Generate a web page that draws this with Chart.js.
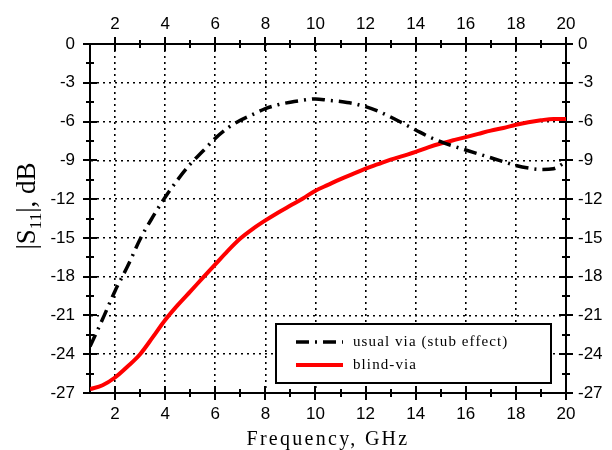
<!DOCTYPE html>
<html>
<head>
<meta charset="utf-8">
<script src="https://cdn.jsdelivr.net/npm/chart.js@4.4.1/dist/chart.umd.min.js"></script>
<style>
  html, body { margin: 0; padding: 0; background: #fff; }
  #wrap { width: 612px; height: 450px; }
</style>
</head>
<body>
<div id="wrap"><canvas id="grafico" width="612" height="450"></canvas></div>
<script>
// Frecuencia (GHz) y |S11| (dB)
const frecuencias = [1, 1.5, 2, 2.5, 3, 3.5, 4, 4.5, 5, 5.5, 6, 6.5, 7, 7.5, 8, 8.5, 9, 9.5, 10,
  10.5, 11, 11.5, 12, 12.5, 13, 13.5, 14, 14.5, 15, 15.5, 16, 16.5, 17, 17.5, 18, 18.5, 19, 19.5, 20];
const viaUsual = [-23.4, -21.3, -19.1, -17.2, -15.1, -13.4, -11.85, -10.5, -9.3, -8.3, -7.3, -6.5, -5.9,
  -5.45, -5.0, -4.7, -4.5, -4.35, -4.25, -4.35, -4.45, -4.6, -4.85, -5.2, -5.65, -6.15, -6.65, -7.15,
  -7.55, -7.9, -8.2, -8.5, -8.8, -9.1, -9.4, -9.6, -9.7, -9.65, -9.1];
const viaCiega = [-26.7, -26.4, -25.8, -24.95, -24.0, -22.7, -21.35, -20.2, -19.15, -18.1, -17.05,
  -16.0, -15.05, -14.3, -13.65, -13.05, -12.5, -11.95, -11.35, -10.9, -10.45, -10.05, -9.65, -9.3,
  -8.95, -8.65, -8.35, -8.0, -7.7, -7.45, -7.2, -6.95, -6.7, -6.5, -6.25, -6.05, -5.9, -5.8, -5.8];

const ticksX = [2, 4, 6, 8, 10, 12, 14, 16, 18, 20];
const menoresX = [3, 5, 7, 9, 11, 13, 15, 17, 19];
const ticksY = [0, -3, -6, -9, -12, -15, -18, -21, -24, -27];
const menoresY = [-1.5, -4.5, -7.5, -10.5, -13.5, -16.5, -19.5, -22.5, -25.5];

const etiquetas = ['usual via (stub effect)', 'blind-via'];
const tituloX = 'Frequency, GHz';

const fuenteTicks = { family: 'Liberation Sans', size: 17 };

/**
 * Marcas mayores y menores en los cuatro lados del marco.
 */
const marcasEjes = {
  id: 'marcasEjes',
  afterDraw(chart) {
    const { ctx, chartArea: a, scales } = chart;
    ctx.save();
    ctx.strokeStyle = '#000';
    ctx.lineWidth = 2;
    ctx.beginPath();
    const enX = (v, len) => {
      const px = Math.round(scales.x.getPixelForValue(v));
      for (const y of [a.top, a.bottom]) { ctx.moveTo(px, y - len); ctx.lineTo(px, y + len); }
    };
    const enY = (v, len) => {
      const py = Math.round(scales.y.getPixelForValue(v));
      for (const x of [a.left, a.right]) { ctx.moveTo(x - len, py); ctx.lineTo(x + len, py); }
    };
    ticksX.forEach(v => enX(v, 7));
    menoresX.forEach(v => enX(v, 4));
    ticksY.forEach(v => enY(v, 7));
    menoresY.forEach(v => enY(v, 4));
    ctx.stroke();
    ctx.restore();
  }
};

/**
 * Títulos de ejes (con subíndice en el eje Y) y leyenda dentro del área.
 */
const titulosYLeyenda = {
  id: 'titulosYLeyenda',
  afterDraw(chart) {
    const { ctx, chartArea: a } = chart;
    ctx.save();
    ctx.fillStyle = '#000';

    // título eje X
    ctx.font = '20px "Liberation Serif"';
    ctx.letterSpacing = '2.3px';
    ctx.textAlign = 'center';
    ctx.textBaseline = 'alphabetic';
    ctx.fillText(tituloX, (a.left + a.right) / 2, 445);
    ctx.letterSpacing = '0px';

    // título eje Y: |S11|, dB
    const partes = [
      { t: '|S', f: '27px "Liberation Serif"', dy: 0 },
      { t: '11', f: '17px "Liberation Serif"', dy: 6 },
      { t: '|, dB', f: '27px "Liberation Serif"', dy: 0 }
    ];
    let total = 0;
    for (const p of partes) { ctx.font = p.f; p.w = ctx.measureText(p.t).width; total += p.w; }
    ctx.translate(35, 206);
    ctx.rotate(-Math.PI / 2);
    ctx.textAlign = 'left';
    let x = -total / 2;
    for (const p of partes) { ctx.font = p.f; ctx.fillText(p.t, x, p.dy); x += p.w; }
    ctx.setTransform(1, 0, 0, 1, 0, 0);

    // leyenda
    const caja = { x: 276, y: 324, w: 275, h: 59 };
    ctx.fillStyle = '#fff';
    ctx.fillRect(caja.x, caja.y, caja.w, caja.h);
    ctx.strokeStyle = '#000';
    ctx.lineWidth = 2;
    ctx.strokeRect(caja.x, caja.y, caja.w, caja.h);
    const filas = [342, 365];
    chart.data.datasets.forEach((ds, i) => {
      const y = filas[i];
      ctx.beginPath();
      ctx.strokeStyle = ds.borderColor;
      ctx.lineWidth = ds.borderWidth;
      ctx.setLineDash(ds.borderDash || []);
      ctx.moveTo(296, y);
      ctx.lineTo(343, y);
      ctx.stroke();
      ctx.setLineDash([]);
      ctx.fillStyle = '#000';
      ctx.font = '15px "Liberation Serif"';
      ctx.letterSpacing = '1.1px';
      ctx.textBaseline = 'middle';
      ctx.fillText(etiquetas[i], 353, y);
      ctx.letterSpacing = '0px';
    });
    ctx.restore();
  }
};

const puntos = serie => frecuencias.map((f, i) => ({ x: f, y: serie[i] }));

const fijarTicks = lista => s => { s.ticks = lista.map(v => ({ value: v })); };

new Chart(document.getElementById('grafico').getContext('2d'), {
  type: 'line',
  data: {
    datasets: [
      {
        label: etiquetas[0],
        data: puntos(viaUsual),
        borderColor: '#000',
        borderWidth: 3.5,
        borderDash: [13, 6, 2, 6],
        pointRadius: 0,
        cubicInterpolationMode: 'monotone',
        order: 0
      },
      {
        label: etiquetas[1],
        data: puntos(viaCiega),
        borderColor: '#ff0000',
        borderWidth: 4,
        pointRadius: 0,
        cubicInterpolationMode: 'monotone',
        order: 1
      }
    ]
  },
  options: {
    responsive: false,
    animation: false,
    layout: { padding: 0 },
    plugins: { legend: { display: false }, tooltip: { enabled: false } },
    scales: {
      x: {
        type: 'linear', position: 'bottom', min: 1, max: 20,
        afterBuildTicks: fijarTicks(ticksX),
        afterFit: s => { s.height = 57; },
        grid: { color: '#000', lineWidth: 1.6, drawTicks: false },
        border: { color: '#000', width: 2, dash: [2, 4] },
        ticks: { color: '#000', font: fuenteTicks, padding: 11, maxRotation: 0 }
      },
      x2: {
        type: 'linear', position: 'top', min: 1, max: 20,
        afterBuildTicks: fijarTicks(ticksX),
        afterFit: s => { s.height = 44; },
        grid: { drawOnChartArea: false, drawTicks: false },
        border: { color: '#000', width: 2 },
        ticks: { color: '#000', font: fuenteTicks, padding: 9, maxRotation: 0 }
      },
      y: {
        type: 'linear', position: 'left', min: -27, max: 0,
        afterBuildTicks: fijarTicks(ticksY),
        afterFit: s => { s.width = 90; },
        grid: { color: '#000', lineWidth: 1.6, drawTicks: false },
        border: { color: '#000', width: 2, dash: [2, 4] },
        ticks: { color: '#000', font: fuenteTicks, padding: 15 }
      },
      y2: {
        type: 'linear', position: 'right', min: -27, max: 0,
        afterBuildTicks: fijarTicks(ticksY),
        afterFit: s => { s.width = 46; },
        grid: { drawOnChartArea: false, drawTicks: false },
        border: { color: '#000', width: 2 },
        ticks: { color: '#000', font: fuenteTicks, padding: 12 }
      }
    }
  },
  plugins: [marcasEjes, titulosYLeyenda]
});
</script>
</body>
</html>
